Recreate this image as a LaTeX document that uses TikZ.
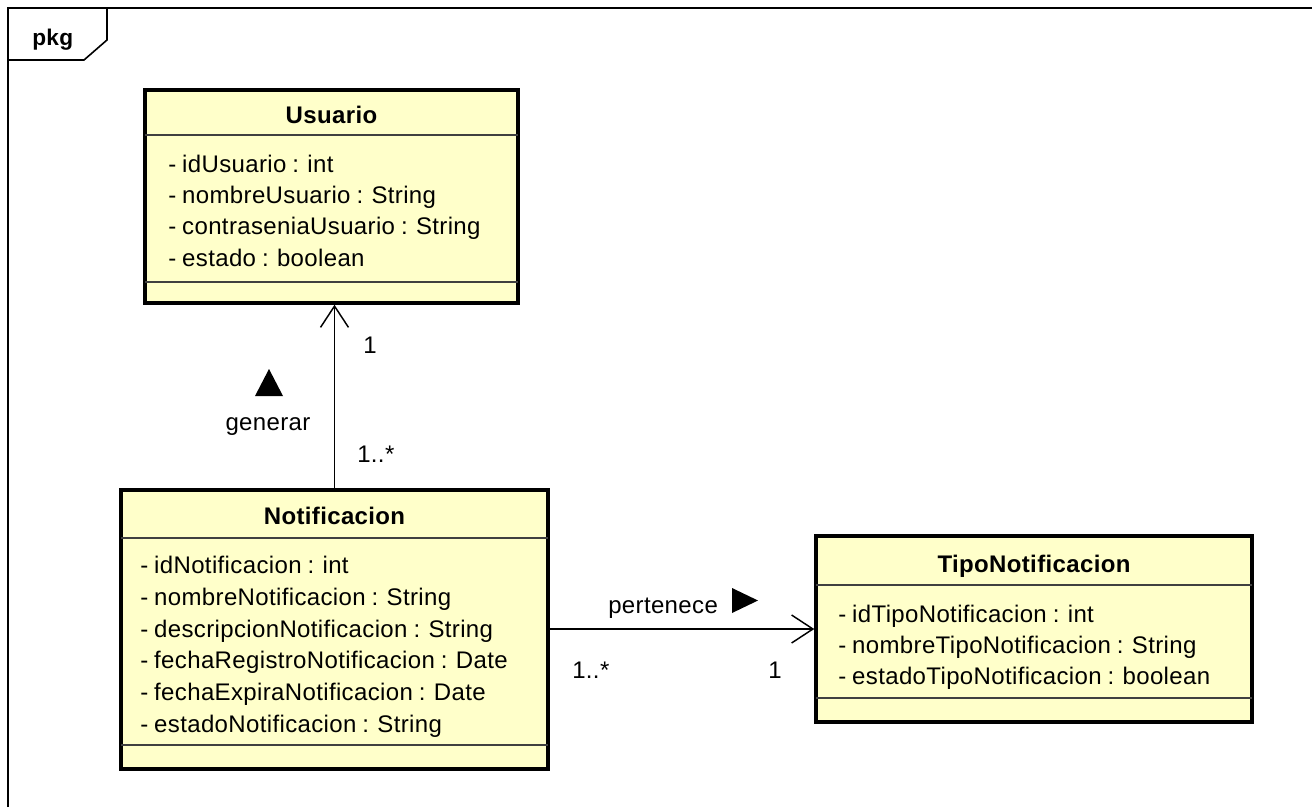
\documentclass[tikz,border=0pt]{standalone}
\usepackage{fontspec}
\setmainfont[LetterSpace=1.5, WordSpace=0.85]{Liberation Sans}
\usetikzlibrary{arrows.meta}
\definecolor{classfill}{RGB}{255,255,202}
\newcommand{\attrfont}{\fontsize{18}{24}\selectfont}
\newcommand{\titlefont}{\fontsize{18}{24}\selectfont\bfseries}
\tikzset{
  classbox/.style={draw=black, line width=2.6pt, fill=classfill, inner sep=0pt},
  sepline/.style={line width=1.1pt, draw=black!75},
  attr/.style={anchor=base west, inner sep=0pt, font=\attrfont},
  ctitle/.style={anchor=base, inner sep=0pt, font=\titlefont},
  lbl/.style={anchor=base, inner sep=0pt, font=\attrfont},
  assoc/.style={line width=1.1pt, -{Straight Barb[length=16pt,width=21pt,line width=1.1pt]}},
  framel/.style={line width=1.2pt, draw=black},
  dirtri/.style={fill=black, draw=none}
}
\begin{document}
\begin{tikzpicture}[x=0.75pt, y=-0.75pt]
\useasboundingbox (0,0) rectangle (1312,807);
% frame
\draw[framel] (8,807) -- (8,8) -- (1312,8);
\draw[framel] (107,8) -- (107,40) -- (84,60) -- (8,60);
\node[anchor=base west, inner sep=0pt, font=\fontsize{17}{20}\selectfont\bfseries] (pkg) at (32,45) {pkg};

% Usuario
\node[classbox, minimum width=279.75pt, minimum height=159.75pt] (usuario) at (331.5,196.5) {};
\draw[sepline] (145,135) -- (518,135);
\draw[sepline] (145,282) -- (518,282);
\node[ctitle] (usuarioT) at (331.5,123) {Usuario};
\node[attr] (u1) at (168,172) {- idUsuario : int};
\node[attr] (u2) at (168,203) {- nombreUsuario : String};
\node[attr] (u3) at (168,234.5) {- contraseniaUsuario : String};
\node[attr] (u4) at (168,266) {- estado : boolean};

% Notificacion
\node[classbox, minimum width=320.25pt, minimum height=209.25pt] (notif) at (334.5,629.5) {};
\draw[sepline] (121,538) -- (548,538);
\draw[sepline] (121,745) -- (548,745);
\node[ctitle] (notifT) at (334.5,524) {Notificacion};
\node[attr] (n1) at (140,573) {- idNotificacion : int};
\node[attr] (n2) at (140,605) {- nombreNotificacion : String};
\node[attr] (n3) at (140,637) {- descripcionNotificacion : String};
\node[attr] (n4) at (140,668.5) {- fechaRegistroNotificacion : Date};
\node[attr] (n5) at (140,700.5) {- fechaExpiraNotificacion : Date};
\node[attr] (n6) at (140,732) {- estadoNotificacion : String};

% TipoNotificacion
\node[classbox, minimum width=327pt, minimum height=139.5pt] (tipo) at (1034,629) {};
\draw[sepline] (816,585) -- (1252,585);
\draw[sepline] (816,698) -- (1252,698);
\node[ctitle] (tipoT) at (1034,572) {TipoNotificacion};
\node[attr] (t1) at (838,622) {- idTipoNotificacion : int};
\node[attr] (t2) at (838,653) {- nombreTipoNotificacion : String};
\node[attr] (t3) at (838,684) {- estadoTipoNotificacion : boolean};

% association generar
\draw[assoc] (notif.north) -- (notif.north |- usuario.south);
\node[lbl] (m1) at (370,353) {1};
\node[lbl, anchor=base west] (m2) at (357,462) {1..*};
\node[lbl] (gen) at (268,430) {generar};
\fill[dirtri] (255,396) -- (283,396) -- (269,369) -- cycle;

% association pertenece
\draw[assoc] (notif.east |- tipo.west) -- (tipo.west);
\node[lbl, anchor=base west] (per) at (608,613) {pertenece};
\fill[dirtri] (732,588) -- (732,613) -- (758,600.5) -- cycle;
\node[lbl, anchor=base west] (m3) at (572,678) {1..*};
\node[lbl] (m4) at (775,678) {1};
\end{tikzpicture}
\end{document}
